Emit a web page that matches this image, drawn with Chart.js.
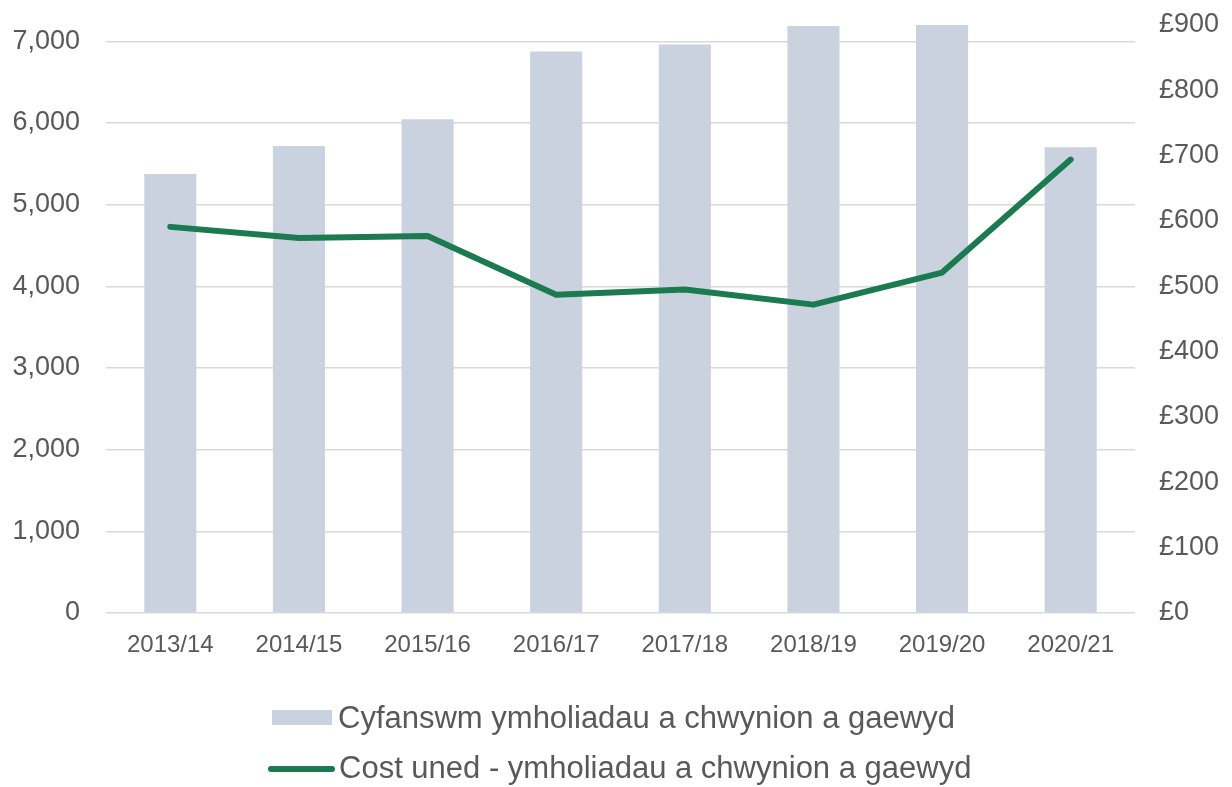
<!DOCTYPE html>
<html>
<head>
<meta charset="utf-8">
<script src="https://cdn.jsdelivr.net/npm/chart.js@4.4.1/dist/chart.umd.min.js"></script>
<style>
  html, body { margin: 0; padding: 0; background: #fff; }
  #wrap { width: 1232px; height: 787px; }
</style>
</head>
<body>
<div id="wrap"><canvas id="chart"></canvas></div>
<script>
var years = ["2013/14", "2014/15", "2015/16", "2016/17", "2017/18", "2018/19", "2019/20", "2020/21"];
var closed_total = [5376, 5719, 6045, 6874, 6960, 7188, 7200, 5702];
var unit_cost = [591, 574, 577, 487, 495, 472, 521, 694];
var count_ticks = [0, 1000, 2000, 3000, 4000, 5000, 6000, 7000];
var cost_ticks = [0, 100, 200, 300, 400, 500, 600, 700, 800, 900];

var bar_label = "Cyfanswm ymholiadau a chwynion a gaewyd";
var line_label = "Cost uned - ymholiadau a chwynion a gaewyd";

const bar_colour = "#cbd2df";
const line_colour = "#1b7a50";
const text_colour = "#595959";
const font_family = "'Liberation Sans', Arial, sans-serif";

// legend drawn by hand, two rows under the x axis
const legendRows = {
  id: "legendRows",
  afterDraw(chart) {
    const c = chart.ctx;
    const top = chart.chartArea.bottom;
    c.save();
    c.font = "31px " + font_family;
    c.textBaseline = "middle";

    c.fillStyle = bar_colour;
    c.fillRect(272, top + 97, 60, 15);
    c.fillStyle = text_colour;
    c.fillText(bar_label, 338, top + 106);

    c.strokeStyle = line_colour;
    c.lineWidth = 6;
    c.lineCap = "round";
    c.beginPath();
    c.moveTo(271, top + 156);
    c.lineTo(332, top + 156);
    c.stroke();
    c.fillStyle = text_colour;
    c.fillText(line_label, 339, top + 156);
    c.restore();
  },
};

// keep the value axes from pushing the plot down for their label overhang
function fixWidth(w) {
  return function (scale) {
    scale.width = w;
    scale.paddingTop = 0;
    scale.paddingBottom = 0;
  };
}

const ctx = document.getElementById("chart").getContext("2d");

const config = {
  data: {
    labels: years,
    datasets: [
      {
        type: "line",
        label: line_label,
        data: unit_cost,
        yAxisID: "y1",
        borderColor: line_colour,
        borderWidth: 6,
        borderCapStyle: "round",
        borderJoinStyle: "round",
        pointRadius: 0,
        tension: 0,
        order: 0,
      },
      {
        type: "bar",
        label: bar_label,
        data: closed_total,
        yAxisID: "y",
        backgroundColor: bar_colour,
        barPercentage: 0.405,
        categoryPercentage: 1,
        order: 1,
      },
    ],
  },
  options: {
    responsive: true,
    maintainAspectRatio: false,
    animation: false,
    layout: {
      padding: { top: 25, left: 0, right: 0, bottom: 124 },
    },
    plugins: {
      legend: { display: false },
      tooltip: { enabled: false },
    },
    scales: {
      x: {
        grid: { display: false },
        border: { display: false },
        ticks: {
          color: text_colour,
          font: { family: font_family, size: 24 },
          padding: 10,
          maxRotation: 0,
        },
        afterFit(scale) {
          scale.height = 50;
        },
      },
      y: {
        position: "left",
        min: 0,
        max: 7200,
        afterBuildTicks(scale) {
          scale.ticks = count_ticks.map((v) => ({ value: v }));
        },
        grid: { color: "#d9d9d9", lineWidth: 1.5, drawTicks: false },
        border: { display: false },
        ticks: {
          color: text_colour,
          font: { family: font_family, size: 27 },
          padding: 26,
          callback: (v) => v.toLocaleString("en-GB"),
        },
        afterFit: fixWidth(106),
      },
      y1: {
        position: "right",
        min: 0,
        max: 900,
        afterBuildTicks(scale) {
          scale.ticks = cost_ticks.map((v) => ({ value: v }));
        },
        grid: { display: false, drawTicks: false },
        border: { display: false },
        ticks: {
          color: text_colour,
          font: { family: font_family, size: 27 },
          padding: 24,
          callback: (v) => "£" + v,
        },
        afterFit: fixWidth(97),
      },
    },
  },
  plugins: [legendRows],
};

var chart = new Chart(ctx, config);
</script>
</body>
</html>
